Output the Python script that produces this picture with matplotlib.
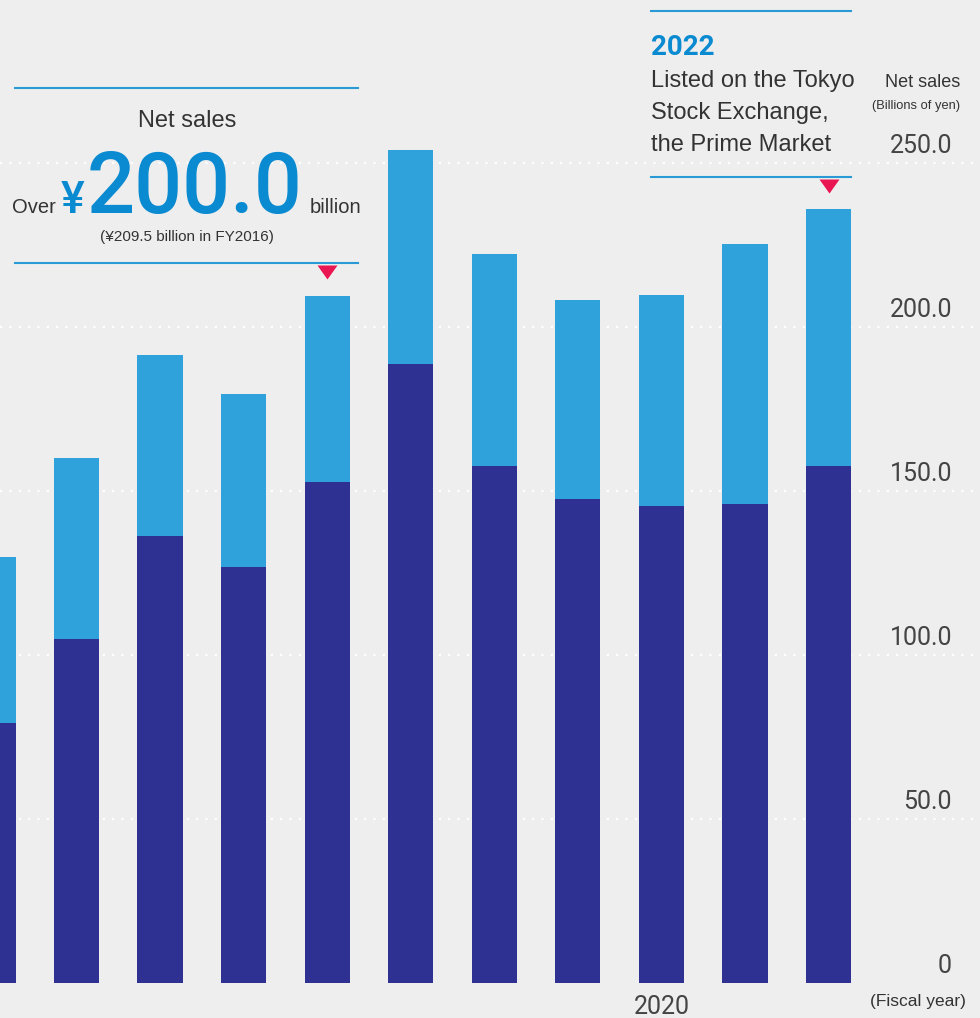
import matplotlib
matplotlib.use("Agg")
import matplotlib.pyplot as plt
from matplotlib.path import Path
from matplotlib.transforms import offset_copy

years = [2012, 2013, 2014, 2015, 2016, 2017, 2018, 2019, 2020, 2021, 2022]
lower_segment = [79.3, 104.9, 136.3, 126.8, 152.7, 188.7, 157.6, 147.6, 145.4, 146.0, 157.6]
upper_segment = [50.6, 55.2, 55.2, 52.8, 56.8, 65.3, 64.7, 60.6, 64.4, 79.3, 78.4]
ytick_values = [0, 50, 100, 150, 200, 250]
ytick_labels = ["0", "50.0", "100.0", "150.0", "200.0", "250.0"]
xtick_values = [2020]
xtick_labels = ["2020"]
marker_years = [2016, 2022]
marker_levels = [216.8, 243.0]

BG = "#eeeeee"
DARK = "#2e3192"
LIGHT = "#2fa2db"
LINEBLUE = "#2a9ad6"
TEXTBLUE = "#0a8ad0"
GRAY = "#333333"
NUMGRAY = "#444444"
PINK = "#ea1652"

W, H = 980, 1018
fig = plt.figure(figsize=(W / 100, H / 100), dpi=100, facecolor=BG)
ax = fig.add_axes([0, 35 / H, 1, 983 / H], facecolor=BG)

ax.set_xlim(2012.0845, 2023.8125)
ax.set_ylim(0, 983 / 3.28)

for v in ytick_values[1:]:
    ax.axhline(v, color="white", lw=1.6, linestyle=(0, (1, 3.2)), zorder=1)

ax.bar(years, lower_segment, width=0.54, color=DARK, zorder=2)
ax.bar(years, upper_segment, width=0.54, bottom=lower_segment, color=LIGHT, zorder=2)

tri = Path([(-1, 0.7), (1, 0.7), (0, -0.7), (-1, 0.7)],
           [Path.MOVETO, Path.LINETO, Path.LINETO, Path.CLOSEPOLY])
ax.plot(marker_years, marker_levels, linestyle="none", marker=tri,
        markersize=14.4, color=PINK, markeredgewidth=0, zorder=4)

for s in ax.spines.values():
    s.set_visible(False)
ax.set_yticks([])
ax.set_xticks(xtick_values)
ax.set_xticklabels(xtick_labels, fontsize=18, color=NUMGRAY, family="Roboto")
ax.tick_params(axis="x", length=0, pad=9)

trans = offset_copy(ax.get_yaxis_transform(), fig=fig, y=7, units="points")
for v, lab in zip(ytick_values, ytick_labels):
    ax.text(0.9714, v, lab, transform=trans, ha="right", va="baseline",
            fontsize=18, color=NUMGRAY, family="Roboto")

def fx(x):
    return x / W

def fy(y):
    return 1 - y / H

# left annotation block
for y in (88, 263):
    fig.add_artist(plt.Line2D([fx(15), fx(358)], [fy(y), fy(y)], color=LINEBLUE, lw=1.5))
fig.text(fx(187), fy(127), "Net sales", ha="center", va="baseline", fontsize=17,
         color=GRAY, family="Liberation Sans")
fig.text(fx(12), fy(213), "Over", ha="left", va="baseline", fontsize=14.5,
         color=GRAY, family="Liberation Sans")
fig.text(fx(61), fy(213), "¥", ha="left", va="baseline", fontsize=32,
         color=TEXTBLUE, family="Roboto", fontweight="medium")
fig.text(fx(87), fy(213), "200.0", ha="left", va="baseline", fontsize=61,
         color=TEXTBLUE, family="Roboto", fontweight="medium")
fig.text(fx(310), fy(213), "billion", ha="left", va="baseline", fontsize=14.5,
         color=GRAY, family="Liberation Sans")
fig.text(fx(187), fy(241), "(¥209.5 billion in FY2016)", ha="center", va="baseline",
         fontsize=11, color=GRAY, family="Liberation Sans")

# right annotation block
for y in (11, 177):
    fig.add_artist(plt.Line2D([fx(651), fx(851)], [fy(y), fy(y)], color=LINEBLUE, lw=1.5))
fig.text(fx(651), fy(55), "2022", ha="left", va="baseline", fontsize=20,
         color=TEXTBLUE, family="Roboto", fontweight="bold")
for y, line in zip((87, 119, 151), ("Listed on the Tokyo", "Stock Exchange,", "the Prime Market")):
    fig.text(fx(651), fy(y), line, ha="left", va="baseline", fontsize=17,
             color=GRAY, family="Liberation Sans")

fig.text(fx(960), fy(87), "Net sales", ha="right", va="baseline", fontsize=13,
         color=GRAY, family="Liberation Sans")
fig.text(fx(960), fy(109), "(Billions of yen)", ha="right", va="baseline", fontsize=9.3,
         color=GRAY, family="Liberation Sans")
fig.text(fx(966), fy(1006), "(Fiscal year)", ha="right", va="baseline", fontsize=12.5,
         color=GRAY, family="Liberation Sans")

fig.savefig("out.png", dpi=100, facecolor=BG)
